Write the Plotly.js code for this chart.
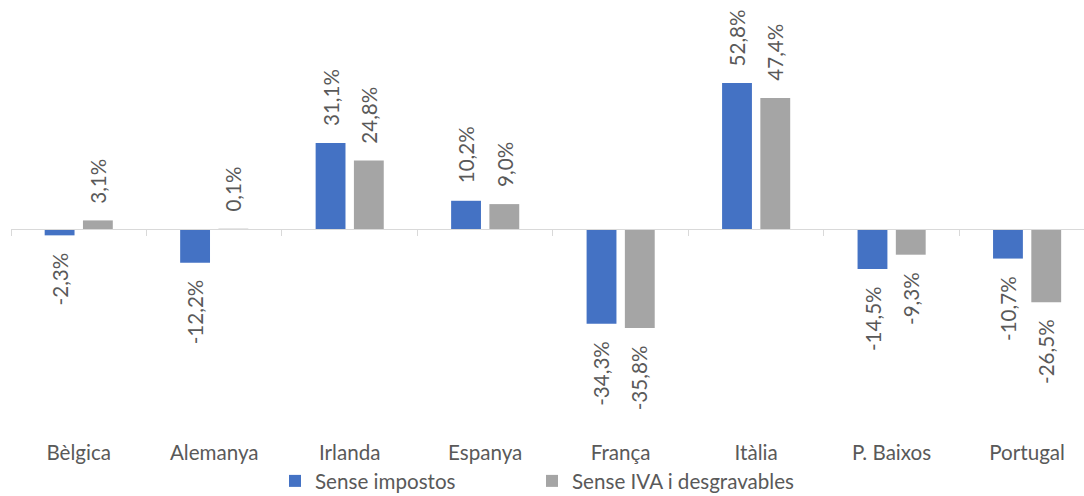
<!DOCTYPE html>
<html>
<head>
<meta charset="utf-8">
<script src="https://cdn.plot.ly/plotly-3.0.1.min.js"></script>
<style>html,body{margin:0;padding:0;background:#fff;}#chart{width:1084px;height:496px;}</style>
</head>
<body>
<div id="chart"></div>
<script>
const categories = ["Bèlgica", "Alemanya", "Irlanda", "Espanya", "França", "Itàlia", "P. Baixos", "Portugal"];
const seriesNames = ["Sense impostos", "Sense IVA i desgravables"];
const senseImpostos = [-2.3, -12.2, 31.1, 10.2, -34.3, 52.8, -14.5, -10.7];
const senseIVA = [3.1, 0.1, 24.8, 9.0, -35.8, 47.4, -9.3, -26.5];
const colors = ["#4472C4", "#A5A5A5"];

const FONT = "Lato, 'Open Sans', sans-serif";
const TXT = "#595959";
const FS = 20.6;

function fmt(v) { return v.toFixed(1).replace(".", ",") + "%"; }

const series = [senseImpostos, senseIVA];
const traces = series.map((vals, i) => ({
  type: "bar",
  x: categories,
  y: vals,
  name: seriesNames[i],
  marker: { color: colors[i] },
  legend: i === 0 ? "legend" : "legend2",
  hoverinfo: "skip"
}));

// zero-line axis helper trace (invisible)
traces.push({ type: "scatter", x: [], y: [], xaxis: "x2", showlegend: false, hoverinfo: "skip" });

const annotations = [];
const shifts = [-19.15, 19.15];
series.forEach((vals, i) => {
  vals.forEach((v, k) => {
    annotations.push({
      x: categories[k], y: v, xref: "x", yref: "y",
      text: fmt(v), showarrow: false, textangle: -90,
      xshift: shifts[i], yshift: v >= 0 ? 15 : -15,
      yanchor: v >= 0 ? "bottom" : "top", xanchor: "center",
      font: { family: FONT, size: FS, color: TXT }
    });
  });
});

const boundaries = categories.map((c, k) => k - 0.5);

const layout = {
  width: 1084, height: 496,
  margin: { l: 11, r: 0, t: 10, b: 66 },
  paper_bgcolor: "#fff", plot_bgcolor: "#fff",
  barmode: "group", bargap: 0.435, bargroupgap: 0.22,
  font: { family: FONT, color: TXT },
  xaxis: {
    type: "category", range: [-0.5, 7.42], showline: false, showgrid: false,
    ticks: "", ticklabelstandoff: 8, tickfont: { family: FONT, size: FS, color: TXT },
    fixedrange: true
  },
  xaxis2: {
    overlaying: "x", anchor: "free", position: 201 / 420, side: "bottom",
    type: "linear", range: [-0.5, 7.42], showline: true, linecolor: "#D9D9D9", linewidth: 1,
    showgrid: false, zeroline: false, ticks: "outside", ticklen: 6, tickcolor: "#D9D9D9", tickwidth: 1,
    tickvals: boundaries, showticklabels: false, fixedrange: true
  },
  yaxis: {
    range: [-72.7, 79.2], showgrid: false, zeroline: false, showline: false,
    showticklabels: false, ticks: "", fixedrange: true
  },
  legend: {
    orientation: "h", xref: "container", yref: "container",
    x: 275 / 1084, y: 1 - 481 / 496, xanchor: "left", yanchor: "middle",
    font: { family: FONT, size: FS, color: TXT }, bgcolor: "rgba(0,0,0,0)"
  },
  legend2: {
    orientation: "h", xref: "container", yref: "container",
    x: 532 / 1084, y: 1 - 481 / 496, xanchor: "left", yanchor: "middle",
    font: { family: FONT, size: FS, color: TXT }, bgcolor: "rgba(0,0,0,0)"
  },
  annotations: annotations,
  showlegend: true
};

Plotly.newPlot("chart", traces, layout, { displayModeBar: false, staticPlot: true });
</script>
</body>
</html>
